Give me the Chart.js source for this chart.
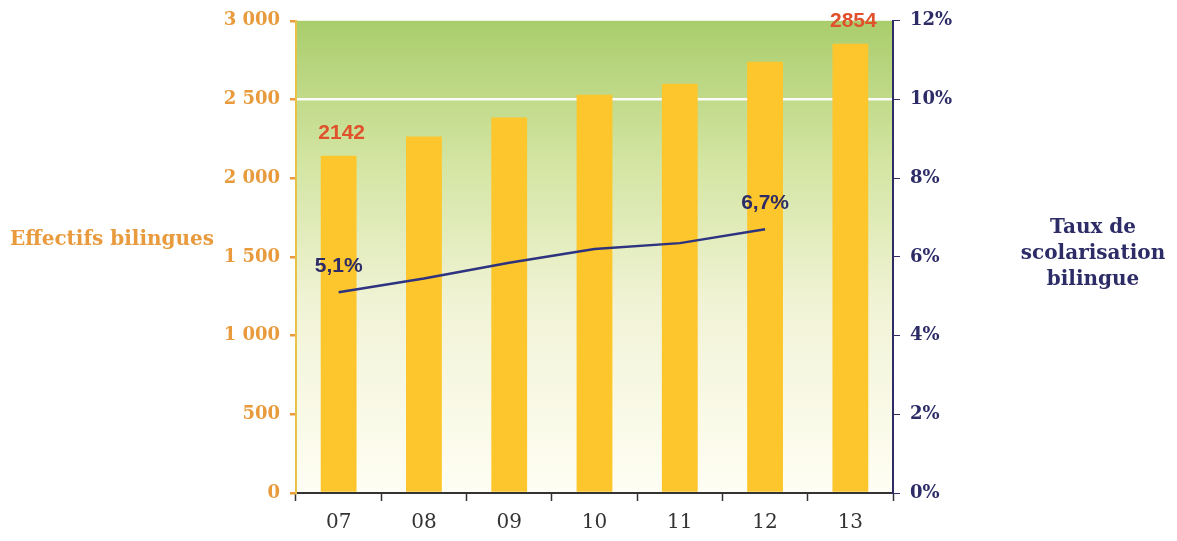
<!DOCTYPE html>
<html>
<head>
<meta charset="utf-8">
<script src="https://cdn.jsdelivr.net/npm/chart.js@4"></script>
<style>
  html, body { margin: 0; padding: 0; background: #fff; }
  #wrap { width: 1177px; height: 541px; position: relative; }
</style>
</head>
<body>
<div id="wrap"><canvas id="c"></canvas></div>
<script>
const years = ["07", "08", "09", "10", "11", "12", "13"];
const effectifs = [2142, 2265, 2385, 2530, 2600, 2740, 2854];
const taux = [5.1, 5.45, 5.85, 6.2, 6.35, 6.7, null];
const barLabels = { 0: "2142", 6: "2854" };
const lineLabels = { 0: "5,1%", 5: "6,7%" };

const orange = "#e89a3c";
const navy = "#2d2c66";

const extras = {
  id: "extras",
  beforeDraw(chart) {
    const { ctx, chartArea: a } = chart;
    const g = ctx.createLinearGradient(0, a.top, 0, a.bottom);
    g.addColorStop(0, "#aacd6c");
    g.addColorStop(0.3, "#d3e5a2");
    g.addColorStop(0.6, "#f1f3d6");
    g.addColorStop(1, "#fffef4");
    ctx.save();
    ctx.fillStyle = g;
    ctx.fillRect(a.left, a.top, a.right - a.left, a.bottom - a.top);
    ctx.restore();
  },
  afterDraw(chart) {
    const { ctx } = chart;
    ctx.save();
    ctx.textAlign = "center";
    ctx.textBaseline = "bottom";
    ctx.font = "bold 21px 'Liberation Sans', Arial, sans-serif";
    const bars = chart.getDatasetMeta(1).data;
    ctx.fillStyle = "#e0512c";
    for (const i in barLabels) {
      const b = bars[i];
      ctx.fillText(barLabels[i], b.x + 3, b.y - 12);
    }
    const pts = chart.getDatasetMeta(0).data;
    ctx.fillStyle = navy;
    for (const i in lineLabels) {
      const p = pts[i];
      ctx.fillText(lineLabels[i], p.x, p.y - 16);
    }
    // axis titles
    ctx.font = "bold 20px 'DejaVu Serif', serif";
    ctx.fillStyle = orange;
    ctx.textAlign = "left";
    ctx.textBaseline = "middle";
    ctx.fillText("Effectifs bilingues", 10, 240);
    ctx.font = "bold 20px 'DejaVu Serif', serif";
    ctx.fillStyle = navy;
    ctx.textAlign = "center";
    ["Taux de", "scolarisation", "bilingue"].forEach((t, k) => {
      ctx.fillText(t, 1093, 228 + k * 26);
    });
    ctx.restore();
  }
};

new Chart(document.getElementById("c"), {
  data: {
    labels: years,
    datasets: [
      {
        type: "line",
        data: taux,
        yAxisID: "y1",
        borderColor: "#2e3380",
        borderWidth: 2.5,
        pointRadius: 0,
        tension: 0,
        order: 0
      },
      {
        type: "bar",
        data: effectifs,
        yAxisID: "y",
        backgroundColor: "#fdc62c",
        categoryPercentage: 1,
        barPercentage: 0.42,
        order: 1
      }
    ]
  },
  options: {
    responsive: true,
    maintainAspectRatio: false,
    animation: false,
    layout: { padding: { top: 20, left: 0, right: 0, bottom: 0 } },
    plugins: { legend: { display: false }, tooltip: { enabled: false } },
    scales: {
      x: {
        offset: true,
        grid: {
          offset: true,
          drawOnChartArea: false,
          tickLength: 8,
          tickColor: "#333",
          tickWidth: 1.5
        },
        border: { color: "#333", width: 2 },
        ticks: {
          color: "#333",
          font: { family: "'DejaVu Serif', serif", size: 20 },
          padding: 10
        },
        afterFit(s) { s.height = 48; }
      },
      y: {
        position: "left",
        min: 0,
        max: 3000,
        ticks: {
          stepSize: 500,
          color: orange,
          padding: 10,
          font: { family: "'DejaVu Serif', serif", size: 18, weight: "bold" },
          callback: v => String(v).replace(/\B(?=(\d{3})+(?!\d))/g, " ")
        },
        grid: {
          color: c => (c.tick && c.tick.value === 2500 ? "rgba(255,255,255,0.95)" : "rgba(255,255,255,0)"),
          lineWidth: 2.5,
          tickLength: 6,
          tickColor: orange
        },
        border: { color: "#e9c24a", width: 2 },
        afterFit(s) { s.width = 296; }
      },
      y1: {
        position: "right",
        min: 0,
        max: 12,
        ticks: {
          stepSize: 2,
          color: navy,
          padding: 10,
          font: { family: "'DejaVu Serif', serif", size: 18, weight: "bold" },
          callback: v => v + "%"
        },
        grid: { drawOnChartArea: false, tickLength: 7, tickColor: navy },
        border: { color: navy, width: 2 },
        afterFit(s) { s.width = 284; }
      }
    }
  },
  plugins: [extras]
});
</script>
</body>
</html>
